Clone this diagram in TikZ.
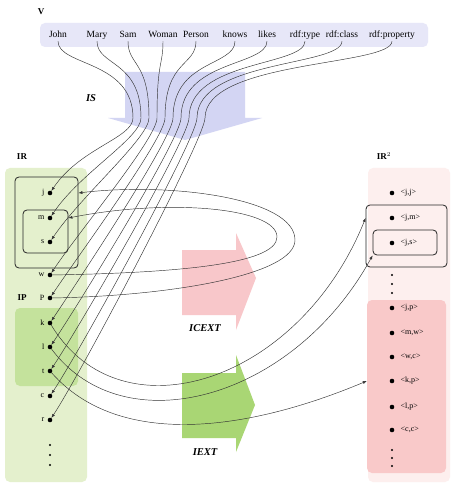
\documentclass[tikz,border=0pt]{standalone}
\usepackage{fontspec}
\setmainfont{Liberation Serif}
\usetikzlibrary{arrows.meta}

\definecolor{vblue}{HTML}{E7E7F8}
\definecolor{isblue}{HTML}{D3D5F3}
\definecolor{irgreen}{HTML}{E4F0CD}
\definecolor{ipgreen}{HTML}{C4E29C}
\definecolor{extgreen}{HTML}{A9D674}
\definecolor{rrpink}{HTML}{FDEFEE}
\definecolor{typepink}{HTML}{F9C9C9}
\definecolor{cextpink}{HTML}{F8C7CA}

\tikzset{
  region/.style={rounded corners=5pt,inner sep=0pt},
  setbox/.style={draw=black!85,line width=0.8pt,rounded corners=4pt,inner sep=0pt},
  elem/.style={circle,fill=black,inner sep=0pt,minimum size=4.6pt},
  tinydot/.style={circle,fill=black,inner sep=0pt,minimum size=2.4pt},
  word/.style={font=\fontsize{9.5}{10}\selectfont,inner sep=1pt,text height=6pt,text depth=2pt},
  lbl/.style={font=\fontsize{8}{9}\selectfont,inner sep=1pt},
  pairlbl/.style={font=\fontsize{8}{9}\selectfont,inner sep=1pt},
  title/.style={font=\fontsize{9}{10}\selectfont\bfseries,inner sep=0pt},
  maplabel/.style={font=\fontsize{10.5}{11}\selectfont\bfseries\itshape,inner sep=0pt},
  map/.style={-{Latex[length=4pt,width=3pt]},line width=0.45pt,black!80}
}

\begin{document}
\begin{tikzpicture}[x=1pt,y=-1pt]
    \useasboundingbox (0,0) rectangle (453,486);
    \fill[white] (0,0) rectangle (453,486);

    % backgrounds
    \node[region,fill=vblue,minimum width=388pt,minimum height=24pt] (Vbox) at (234,35) {};
    \node[region,fill=irgreen,minimum width=82pt,minimum height=314pt] (IRbox) at (46,325) {};
    \node[region,fill=ipgreen,minimum width=63pt,minimum height=78pt] (IPbox) at (46.5,347) {};
    \node[region,fill=rrpink,minimum width=82pt,minimum height=314pt] (RRbox) at (409,325) {};
    \node[region,fill=typepink,minimum width=79pt,minimum height=173pt] (boxType) at (406.5,386.5) {};

    % big arrows
    \fill[isblue] (125,72) -- (245,72) -- (245,118) -- (262,118) -- (185,140)
        -- (108,118) -- (125,118) -- cycle;
    \fill[cextpink] (182,250) -- (236,250) -- (236,233) -- (256,278) -- (236,330)
        -- (236,315) -- (182,315) -- cycle;
    \fill[extgreen] (182,373) -- (236,373) -- (236,355) -- (255,405) -- (236,452)
        -- (236,438) -- (182,438) -- cycle;

    \node[title] (Vlabel) at (41,12) {V};
    \node[title] (IRlabel) at (22,157) {IR};
    \node[title] (IPlabel) at (22,298) {IP};
    \node[title] (RRlabel) at (384,156) {IR$^{2}$};
    \node[maplabel] (ISlabel) at (91,98) {IS};
    \node[maplabel] (ICEXTlabel) at (205,328) {ICEXT};
    \node[maplabel] (IEXTlabel) at (205,452) {IEXT};

    % vocabulary
    \foreach \n/\lab/\x in {John/John/58, Mary/Mary/97, Sam/Sam/128, Woman/Woman/163,
        Person/Person/196, knows/knows/235, likes/likes/267, type/rdf:type/305,
        class/rdf:class/342, property/rdf:property/392}
      \node[word] (v\n) at (\x,36) {\lab};

    % resources
    \node[setbox,minimum width=63pt,minimum height=91pt] (boxPerson) at (46.5,222.5) {};
    \node[setbox,minimum width=45pt,minimum height=43pt] (boxWoman) at (45.5,231.5) {};
    \foreach \n/\y in {j/193, m/218, s/242, w/275, P/298, k/323, l/347, t/371, c/396, r/420}
      \node[elem,label={[lbl,label distance=2pt]left:\n}] (\n) at (50,\y) {};
    \foreach \y in {445,455,465}
      \node[tinydot] at (50,\y) {};

    % pairs
    \node[setbox,minimum width=81pt,minimum height=62pt] (boxKnows) at (406.5,236) {};
    \node[setbox,minimum width=64pt,minimum height=25pt] (boxLikes) at (405,242.5) {};
    \foreach \n/\lab/\y in {jj/{<j,j>}/193, jm/{<j,m>}/218, js/{<j,s>}/243,
        jp/{<j,p>}/308, mw/{<m,w>}/333, wc/{<w,c>}/357, kp/{<k,p>}/381,
        lp/{<l,p>}/407, cc/{<c,c>}/430}
      \node[elem,label={[pairlbl,label distance=5pt]right:\lab}] (\n) at (392,\y) {};
    \foreach \y in {275,284,293,450,458,466}
      \node[tinydot] at (392,\y) {};

    % IS
    \foreach \n/\m/\tgt in {John/133/j, Mary/141/m, Sam/149/s, Woman/157/w, Person/165/P,
        knows/173/k, likes/181/l, type/189/t, class/197/c, property/205/r}
      \draw[map] (v\n.south) .. controls +(0,25) and (\m,60) .. (\m,118)
        .. controls +(0,20) and +(30,-45) .. (\tgt);

    % ICEXT
    \draw[map] (P) .. controls (170,296) and (295,275) .. (295,240)
        .. controls (295,198) and (170,182) .. (boxPerson.east |- j);
    \draw[map] (w) .. controls (170,273) and (277,265) .. (277,237)
        .. controls (277,208) and (170,198) .. (boxWoman.east |- m);

    % IEXT
    \draw[map] (k) .. controls (121,440) and (299,383) .. (boxKnows.west |- jm);
    \draw[map] (l) .. controls (124,446) and (293,400) .. (boxLikes.south west);
    \draw[map] (t) .. controls (120,450) and (250,430) .. (boxType.west |- kp);
\end{tikzpicture}
\end{document}
